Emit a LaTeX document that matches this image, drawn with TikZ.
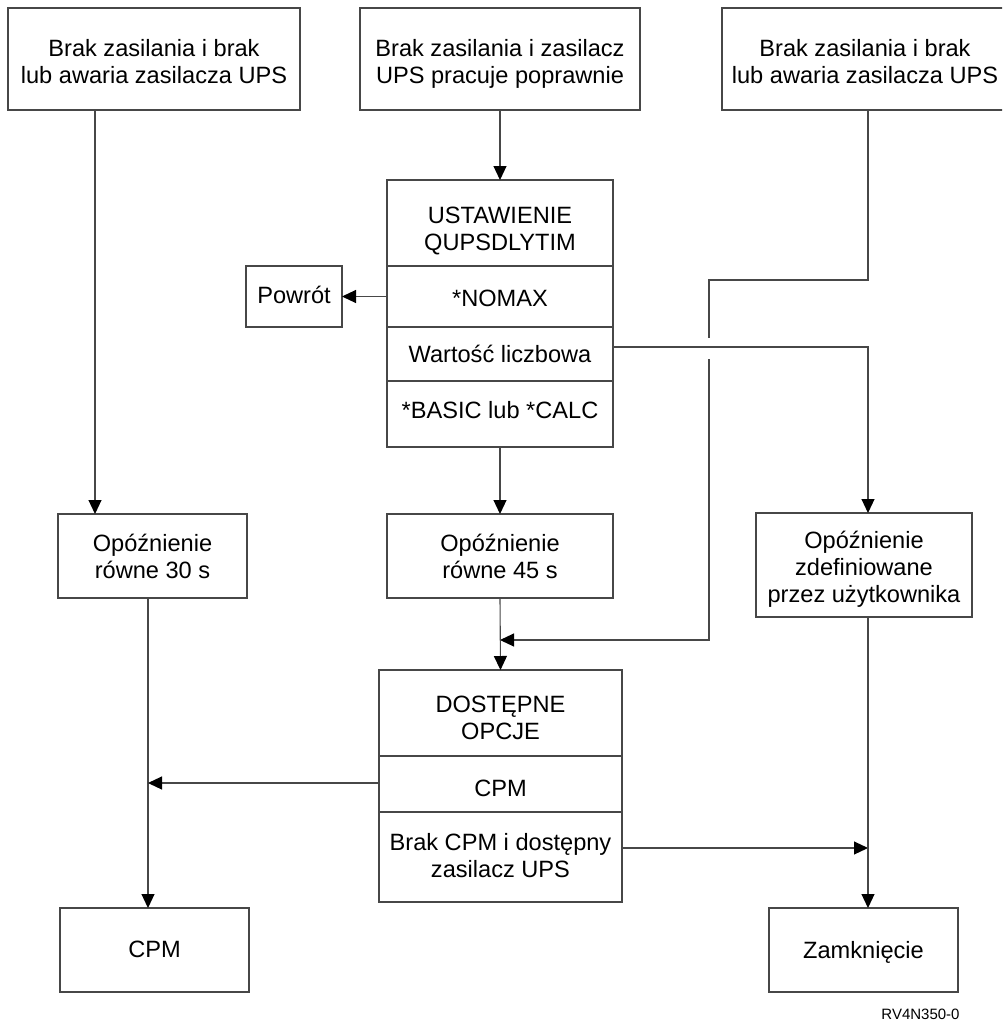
\documentclass[tikz,border=0pt]{standalone}
\usepackage{fontspec}
\setmainfont{Liberation Sans}
\usetikzlibrary{arrows.meta}
\definecolor{linec}{gray}{0.28}
\newcommand{\sline}{\rule[-6pt]{0pt}{26pt}}
\begin{document}
\begin{tikzpicture}[x=1pt,y=-1pt,
  box/.style={draw=linec, line width=1.1pt, inner sep=0pt, outer sep=0pt},
  txt/.style={inner sep=0pt, outer sep=0pt, align=center, font=\fontsize{23.6}{27}\selectfont},
  conn/.style={draw=linec, line width=1.1pt},
  arr/.style={conn, -{Triangle[length=14pt,width=13pt,color=black]}}]
\useasboundingbox (0,0) rectangle (1002,1023);
\clip (0,0) rectangle (1002,1023);
% boxes
\node[box, minimum width=292, minimum height=102] (tl) at (154,59) {};
\node[box, minimum width=280, minimum height=102] (tm) at (500,59) {};
\node[box, minimum width=286, minimum height=102] (tr) at (865,59) {};
\node[box, minimum width=226, minimum height=86] (t1a) at (500,223) {};
\node[box, minimum width=226, minimum height=61] (t1b) at (500,296.5) {};
\node[box, minimum width=226, minimum height=54] (t1c) at (500,354) {};
\node[box, minimum width=226, minimum height=66] (t1d) at (500,414) {};
\node[box, minimum width=96, minimum height=61] (pw) at (294,296.5) {};
\node[box, minimum width=189, minimum height=84] (d30) at (152.5,556) {};
\node[box, minimum width=226, minimum height=84] (d45) at (500,556) {};
\node[box, minimum width=216, minimum height=104] (dus) at (864,565) {};
\node[box, minimum width=243, minimum height=86] (t2a) at (500.5,713) {};
\node[box, minimum width=243, minimum height=56] (t2b) at (500.5,784) {};
\node[box, minimum width=243, minimum height=90] (t2c) at (500.5,857) {};
\node[box, minimum width=189, minimum height=84] (cpm) at (154.5,950) {};
\node[box, minimum width=189, minimum height=84] (zam) at (863.5,950) {};
% texts
\node[txt] (tlx) at (154,62.5) {\sline Brak zasilania i brak\\\sline lub awaria zasilacza UPS};
\node[txt] (tmx) at (500,62.5) {\sline Brak zasilania i zasilacz\\\sline UPS pracuje poprawnie};
\node[txt] (trx) at (865,62.5) {\sline Brak zasilania i brak\\\sline lub awaria zasilacza UPS};
\node[txt] (t1ax) at (500,229.5) {\sline USTAWIENIE\\\sline QUPSDLYTIM};
\node[txt] (t1bx) at (500,299.7) {\sline *NOMAX};
\node[txt] (t1cx) at (500,355.7) {\sline Wartość liczbowa};
\node[txt] (t1dx) at (500,411) {\sline *BASIC lub *CALC};
\node[txt] (pwx) at (294,296) {\sline Powrót};
\node[txt] (d30x) at (152.5,558) {\sline Opóźnienie\\\sline równe 30 s};
\node[txt] (d45x) at (500,558) {\sline Opóźnienie\\\sline równe 45 s};
\node[txt] (dusx) at (864,568) {\sline Opóźnienie\\\sline zdefiniowane\\\sline przez użytkownika};
\node[txt, font=\fontsize{23.6}{25}\selectfont] (t2ax) at (500.5,718.5) {\sline DOSTĘPNE\\\sline OPCJE};
\node[txt] (t2bx) at (500.5,789) {\sline CPM};
\node[txt] (t2cx) at (500.5,857) {\sline Brak CPM i dostępny\\\sline zasilacz UPS};
\node[txt] (cpmx) at (154.5,950) {\sline CPM};
\node[txt] (zamx) at (863.5,951) {\sline Zamknięcie};
\node[inner sep=0pt, anchor=base, font=\fontsize{15}{18}\selectfont] (code) at (920.5,1019) {RV4N350-0};
% helper coordinates
\coordinate (xa) at (95,0);
\coordinate (xb) at (148,0);
\coordinate (xr) at (868,0);
\coordinate (k1) at (868,280);
\coordinate (k2) at (709,280);
\coordinate (g1) at (709,338);
\coordinate (g2) at (709,359);
\coordinate (k3) at (709,640);
\coordinate (k4) at (500,640);
\coordinate (yw) at (0,347);
\coordinate (yb) at (0,848);
% connectors
\draw[arr] (xa |- tl.south) -- (xa |- d30.north);
\draw[arr] (tm.south) -- (t1a.north);
\draw[conn] (xr |- tr.south) -- (k1) -- (k2) -- (g1);
\draw[arr] (g2) -- (k3) -- (k4);
\draw[arr] (t1b.west) -- (pw.east);
\draw[arr] (t1c.east |- yw) -- (xr |- yw) -- (xr |- dus.north);
\draw[arr] (t1d.south) -- (d45.north);
\draw[arr] (d45.south) -- (t2a.north);
\draw[arr] (xb |- d30.south) -- (xb |- cpm.north);
\draw[arr] (t2b.west |- 0,783) -- (xb |- 0,783);
\draw[arr] (t2c.east |- yb) -- (xr |- yb);
\draw[arr] (xr |- dus.south) -- (xr |- zam.north);
\end{tikzpicture}
\end{document}
